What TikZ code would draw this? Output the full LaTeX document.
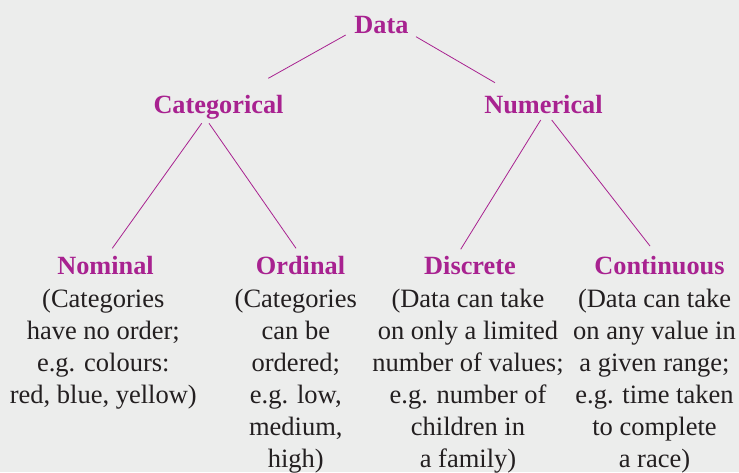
\documentclass[tikz,border=0pt]{standalone}
\usepackage{fontspec}
\setmainfont{Liberation Serif}
\usetikzlibrary{calc}
\definecolor{bg}{HTML}{ECEDEC}
\definecolor{mag}{HTML}{A82290}
\definecolor{ink}{HTML}{231F20}
\tikzset{
  head/.style={inner sep=0pt, anchor=base, text=mag, font=\fontsize{26.3}{32}\selectfont\bfseries},
  body/.style={inner sep=0pt, anchor=north, align=center, text=ink, font=\fontsize{26.5}{32}\selectfont},
  link/.style={draw=mag, line width=0.8pt}
}
\begin{document}
\begin{tikzpicture}[x=1pt,y=-1pt]
\fill[bg] (0,0) rectangle (739,472);
\useasboundingbox (0,0) rectangle (739,472);

\node[head] (data) at (381.5,33) {Data};
\node[head] (cat) at (218.5,113) {Categorical};
\node[head] (num) at (543.5,113) {Numerical};
\node[head] (nom) at (105.5,274) {Nominal};
\node[head] (ord) at (300.5,274) {Ordinal};
\node[head] (dis) at (470,274) {Discrete};
\node[head] (con) at (659.5,274) {Continuous};

\node[body] (nomb) at (103.3,289) {(Categories\\have no order;\\e.g. colours:\\red, blue, yellow)};
\node[body] (ordb) at (295.8,289) {(Categories\\can be\\ordered;\\e.g. low,\\medium,\\high)};
\node[body] (disb) at (468,289) {(Data can take\\on only a limited\\number of values;\\e.g. number of\\children in\\a family)};
\node[body] (conb) at (654.5,289) {(Data can take\\on any value in\\a given range;\\e.g. time taken\\to complete\\a race)};

\draw[link] ($(data.base)+(-35.8,2)$) -- ($(cat.base)+(49.8,-34.7)$);
\draw[link] ($(data.base)+(34.5,3.7)$) -- ($(num.base)+(-48.5,-30.3)$);
\draw[link] ($(cat.base)+(-16.8,10.3)$) -- ($(nom.base)+(6.8,-25.7)$);
\draw[link] ($(cat.base)+(-9.5,10.3)$) -- ($(ord.base)+(-4.5,-25.7)$);
\draw[link] ($(num.base)+(-2.8,7)$) -- ($(dis.base)+(-9.3,-24.7)$);
\draw[link] ($(num.base)+(8.2,7)$) -- ($(con.base)+(-9.5,-28)$);
\end{tikzpicture}
\end{document}
